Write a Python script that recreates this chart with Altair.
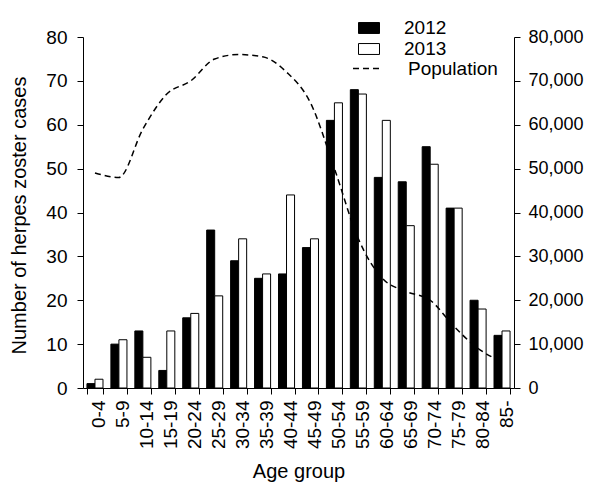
import altair as alt
import pandas as pd

ages = ["0-4", "5-9", "10-14", "15-19", "20-24", "25-29", "30-34", "35-39",
        "40-44", "45-49", "50-54", "55-59", "60-64", "65-69", "70-74",
        "75-79", "80-84", "85-"]
cases_2012 = [1, 10, 13, 4, 16, 36, 29, 25, 26, 32, 61, 68, 48, 47, 55, 41, 20, 12]
cases_2013 = [2, 11, 7, 13, 17, 21, 34, 26, 44, 34, 65, 67, 61, 37, 51, 41, 18, 13]
population = [49000, 48000, 59000, 67000, 70000, 75000, 76000, 75500, 72000,
              65000, 50000, 34000, 25000, 22000, 20000, 14000, 9000, 6000]
years = ["2012", "2013"]

bar_rows = []
for a, c1, c2 in zip(ages, cases_2012, cases_2013):
    bar_rows.append({"age": a, "year": "2012", "cases": c1})
    bar_rows.append({"age": a, "year": "2013", "cases": c2})
bar_df = pd.DataFrame(bar_rows)
pop_df = pd.DataFrame({"age": ages, "population": population, "series": ["Population"] * len(ages)})

FONT = "Liberation Sans"

x_enc = alt.X(
    "age:N", sort=ages,
    scale=alt.Scale(paddingInner=0.33, paddingOuter=0.165),
    axis=alt.Axis(
        title="Age group", labelAngle=-90, labelAlign="right", labelBaseline="middle",
        tickBand="extent", tickSize=6, labelPadding=6, labelFontSize=19,
        labelOffset=4,
        titleFontSize=20, titleFontWeight="normal", titleBaseline="alphabetic",
        titleX=215.5, titleY=89, titleAnchor="middle", titleAlign="center",
    ),
)

bars = alt.Chart(bar_df).mark_bar(stroke="black", strokeWidth=1).encode(
    x=x_enc,
    xOffset=alt.XOffset("year:N", sort=years, scale=alt.Scale(paddingInner=0, paddingOuter=0)),
    y=alt.Y(
        "cases:Q",
        scale=alt.Scale(domain=[0, 80], nice=False),
        axis=alt.Axis(
            orient="left", values=list(range(0, 81, 10)), title="Number of herpes zoster cases",
            tickSize=6, labelPadding=10, labelFontSize=19,
            titleFontSize=20, titleFontWeight="normal", titleAngle=-90,
            titleX=-58, titleY=178, titleBaseline="alphabetic", titleAlign="center",
        ),
    ),
    fill=alt.Fill(
        "year:N",
        scale=alt.Scale(domain=years, range=["black", "white"]),
        legend=alt.Legend(
            title=None, orient="none", legendX=275, legendY=-20,
            symbolType="M-1,-0.52H1V0.52H-1Z", symbolSize=441,
            symbolStrokeColor="black", symbolStrokeWidth=1,
            labelFontSize=19, labelOffset=24, rowPadding=0, padding=0,
        ),
    ),
)

line = alt.Chart(pop_df).mark_line(color="black", strokeWidth=1.5, interpolate="monotone").encode(
    x=alt.X("age:N", sort=ages),
    y=alt.Y(
        "population:Q",
        scale=alt.Scale(domain=[0, 80000], nice=False),
        axis=alt.Axis(
            orient="right", values=list(range(0, 80001, 10000)), format=",d", title=None,
            tickSize=6, labelPadding=8, labelFontSize=18,
        ),
    ),
    strokeDash=alt.StrokeDash(
        "series:N",
        scale=alt.Scale(domain=["Population"], range=[[6, 4]]),
        legend=alt.Legend(
            title=None, orient="none", legendX=269, legendY=17,
            symbolType="stroke", symbolSize=729, symbolStrokeWidth=1.5,
            symbolStrokeColor="black", symbolDash=[4, 3],
            labelFontSize=19, labelOffset=27, padding=0,
        ),
    ),
)

chart = (
    alt.layer(bars, line)
    .resolve_scale(y="independent", fill="independent", strokeDash="independent")
    .properties(
        width=431, height=351,
        autosize=alt.AutoSizeParams(type="none"),
        padding={"left": 75, "top": 29, "right": 74, "bottom": 97},
    )
    .configure(font=FONT)
    .configure_view(stroke=None)
    .configure_axis(
        grid=False, domainColor="black", tickColor="black", labelColor="black",
        titleColor="black", labelFont=FONT, titleFont=FONT, domainWidth=1, tickWidth=1,
    )
    .configure_legend(labelFont=FONT, labelColor="black")
)

chart.save("out.html", embed_options={"renderer": "svg", "actions": False})
